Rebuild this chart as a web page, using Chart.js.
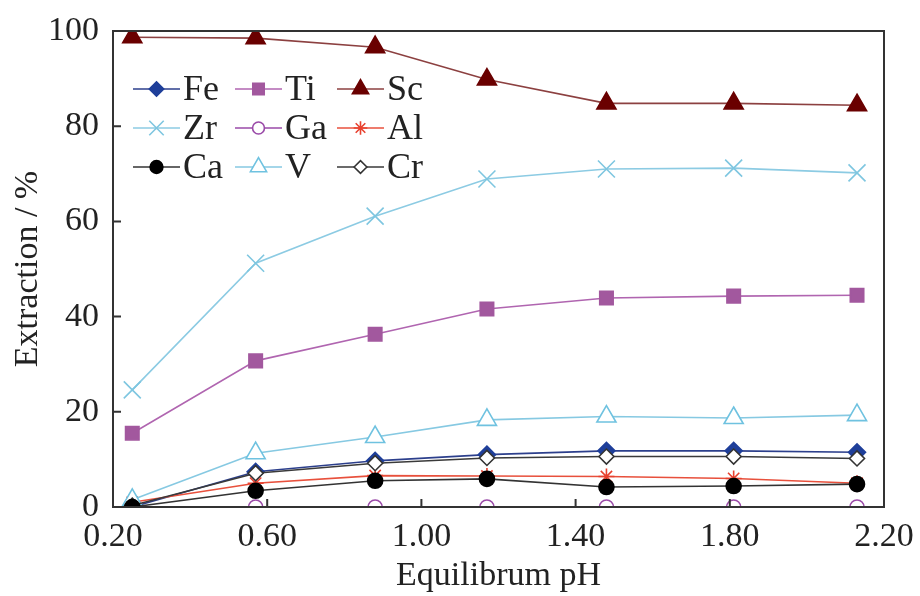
<!DOCTYPE html>
<html>
<head>
<meta charset="utf-8">
<script src="https://cdn.jsdelivr.net/npm/chart.js@4/dist/chart.umd.min.js"></script>
<style>
  body { margin: 0; background: #fff; }
  #wrap { width: 920px; height: 596px; }
</style>
</head>
<body>
<div id="wrap"><canvas id="graphique" width="920" height="596"></canvas></div>
<script>
// equilibrium pH values
const ph = [0.25, 0.57, 0.88, 1.17, 1.48, 1.81, 2.13];

// extraction (%) per element
const fe = [0.0, 7.4, 9.7, 11.0, 11.8, 11.8, 11.5];
const ti = [15.5, 30.7, 36.3, 41.6, 43.9, 44.3, 44.5];
const sc = [98.7, 98.5, 96.6, 89.8, 84.8, 84.8, 84.4];
const zr = [24.6, 51.2, 61.1, 68.9, 71.0, 71.2, 70.2];
const ga = [0.0, 0.0, 0.0, 0.0, 0.0, 0.0, 0.0];
const al = [1.0, 5.0, 6.6, 6.5, 6.4, 6.0, 5.0];
const ca = [0.0, 3.4, 5.5, 5.9, 4.2, 4.4, 4.8];
const v  = [1.5, 11.3, 14.7, 18.3, 19.0, 18.7, 19.3];
const cr = [0.3, 7.1, 9.2, 10.3, 10.6, 10.6, 10.2];

const xTicks = [0.2, 0.6, 1.0, 1.4, 1.8, 2.2];
const yTicks = [0, 20, 40, 60, 80, 100];

const police = '"Liberation Serif", "Times New Roman", serif';

function points(valeurs) {
    return valeurs.map((y, i) => ({ x: ph[i], y }));
}

function serie(label, valeurs, couleur, ligne, style, rayon, plein, ordre) {
    return {
        label,
        data: points(valeurs),
        borderColor: ligne,
        borderWidth: 1.6,
        pointStyle: style,
        pointRadius: rayon,
        pointBorderColor: couleur,
        pointBackgroundColor: plein ? couleur : '#ffffff',
        pointBorderWidth: 1.6,
        tension: 0,
        order: ordre
    };
}

const datasets = [
    serie('Fe', fe, '#1f3f9a', '#2c3f8c', 'rectRot', 8.5, true, 5),
    serie('Ti', ti, '#a2589e', '#b065b0', 'rect', 9.5, true, 3),
    serie('Sc', sc, '#6a0000', '#8c4040', 'triangle', 11, true, 3),
    serie('Zr', zr, '#7ec6e0', '#8ccbe3', 'crossRot', 12, false, 3),
    serie('Ga', ga, '#9a4aa8', '#9a4aa8', 'circle', 7, false, 6),
    serie('Al', al, '#e8412f', '#e8503c', 'star', 8, false, 4),
    serie('Ca', ca, '#000000', '#333333', 'circle', 7.5, true, 1),
    serie('V', v, '#6fc2e0', '#86c9e2', 'triangle', 11, false, 3),
    serie('Cr', cr, '#333333', '#3a3a3a', 'rectRot', 7.5, false, 2)
];

// cadre, petits traits internes et légende en grille
const decor = {
    id: 'decor',
    afterDatasetsDraw(chart) {
        const ctx = chart.ctx;
        const a = chart.chartArea;
        const sx = chart.scales.x;
        const sy = chart.scales.y;
        ctx.save();
        ctx.strokeStyle = '#333333';
        ctx.lineWidth = 2;
        ctx.strokeRect(a.left, a.top, a.right - a.left, a.bottom - a.top);
        ctx.beginPath();
        xTicks.slice(1, -1).forEach(t => {
            const px = sx.getPixelForValue(t);
            ctx.moveTo(px, a.bottom);
            ctx.lineTo(px, a.bottom - 8);
        });
        yTicks.slice(1, -1).forEach(t => {
            const py = sy.getPixelForValue(t);
            ctx.moveTo(a.left, py);
            ctx.lineTo(a.left + 8, py);
        });
        ctx.stroke();

        // légende 3 x 3
        ctx.font = '36px ' + police;
        ctx.textBaseline = 'middle';
        ctx.textAlign = 'left';
        chart.data.datasets.forEach((ds, i) => {
            const col = i % 3, row = Math.floor(i / 3);
            const x0 = a.left + 20 + col * 102;
            const y0 = a.top + 58 + row * 39;
            ctx.strokeStyle = ds.borderColor;
            ctx.lineWidth = 1.6;
            ctx.beginPath();
            ctx.moveTo(x0, y0);
            ctx.lineTo(x0 + 47, y0);
            ctx.stroke();
            ctx.fillStyle = ds.pointBackgroundColor;
            ctx.strokeStyle = ds.pointBorderColor;
            ctx.lineWidth = ds.pointBorderWidth;
            Chart.helpers.drawPoint(ctx, {
                pointStyle: ds.pointStyle,
                radius: ds.pointRadius * 0.85,
                borderWidth: ds.pointBorderWidth,
                rotation: 0
            }, x0 + 23.5, y0);
            ctx.fillStyle = '#222222';
            ctx.fillText(ds.label, x0 + 50, y0 + 2);
        });
        ctx.restore();
    }
};

new Chart(document.getElementById('graphique'), {
    type: 'line',
    data: { datasets },
    plugins: [decor],
    options: {
        responsive: false,
        animation: false,
        layout: { padding: { top: 31, right: 36, left: 0, bottom: 0 } },
        plugins: { legend: { display: false }, tooltip: { enabled: false } },
        scales: {
            x: {
                type: 'linear',
                min: 0.2,
                max: 2.2,
                afterFit: s => {
                    s.height = 89;
                    s.paddingLeft = 0;
                    s.paddingRight = 0;
                },
                afterBuildTicks: s => { s.ticks = xTicks.map(value => ({ value })); },
                grid: { display: false, drawTicks: false },
                border: { display: false },
                ticks: {
                    color: '#222222',
                    font: { family: police, size: 34 },
                    padding: 10,
                    maxRotation: 0,
                    callback: val => Number(val).toFixed(2)
                },
                title: {
                    display: true,
                    text: 'Equilibrum pH',
                    color: '#222222',
                    font: { family: police, size: 34 },
                    padding: 0
                }
            },
            y: {
                min: 0,
                max: 100,
                afterFit: s => {
                    s.width = 113;
                    s.paddingTop = 0;
                    s.paddingBottom = 0;
                },
                afterBuildTicks: s => { s.ticks = yTicks.map(value => ({ value })); },
                grid: { display: false, drawTicks: false },
                border: { display: false },
                ticks: {
                    color: '#222222',
                    font: { family: police, size: 34 },
                    padding: 14
                },
                title: {
                    display: true,
                    text: 'Extraction / %',
                    color: '#222222',
                    font: { family: police, size: 34 },
                    padding: { top: 8, bottom: 0 }
                }
            }
        }
    }
});
</script>
</body>
</html>
